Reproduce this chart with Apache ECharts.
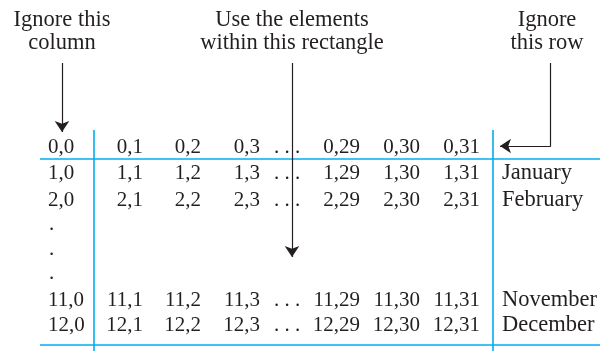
<!DOCTYPE html>
<html>
<head>
<meta charset="utf-8">
<script src="https://cdn.jsdelivr.net/npm/echarts@6/dist/echarts.min.js"></script>
<style>
  html, body { margin: 0; padding: 0; background: #fff; }
  #chart { width: 600px; height: 351px; }
</style>
</head>
<body>
<div id="chart"></div>
<script>
  // table content
  var rowIds = ['0', '1', '2', '11', '12'];
  var colIds = ['1', '2', '3', '29', '30', '31'];
  var monthNames = ['', 'January', 'February', 'November', 'December'];
  var ellipsisRows = ['0', '1', '2', '11', '12'];
  var gapDots = ['.', '.', '.'];
  var notes = [
    ['Ignore this', 'column'],
    ['Use the elements', 'within this rectangle'],
    ['Ignore', 'this row']
  ];

  // layout (pixels, y grows downward)
  var rowY = [147, 173.5, 200, 300, 325];
  var dotY = [229, 254, 278];
  var col0X = 48;
  var colRightX = [143, 201, 260, 360, 420, 480];
  var ellX = 287;
  var monthX = 502;
  var noteX = [62, 292, 547];
  var noteY = [20, 43];

  var ink = '#231f20';
  var blue = '#00aeef';
  var numFont = '21px "Liberation Serif", "DejaVu Serif", serif';
  var wordFont = '22.5px "Liberation Serif", "DejaVu Serif", serif';

  var texts = [];
  notes.forEach(function (n, i) {
    n.forEach(function (line, j) {
      texts.push([noteX[i], noteY[j], line, 'center', wordFont]);
    });
  });
  rowIds.forEach(function (r, i) {
    texts.push([col0X, rowY[i], r + ',0', 'left', numFont]);
    colIds.forEach(function (c, k) {
      texts.push([colRightX[k], rowY[i], r + ',' + c, 'right', numFont]);
    });
    if (monthNames[i]) texts.push([monthX, rowY[i], monthNames[i], 'left', wordFont]);
  });
  ellipsisRows.forEach(function (r, i) {
    texts.push([ellX, rowY[i], '. . .', 'center', numFont]);
  });
  gapDots.forEach(function (d, i) {
    texts.push([col0X + 1, dotY[i] - 5, d, 'left', numFont]);
  });

  var chart = echarts.init(document.getElementById('chart'));
  chart.setOption({
    animation: false,
    grid: { left: 0, right: 0, top: 0, bottom: 0 },
    xAxis: { type: 'value', min: 0, max: 600, show: false },
    yAxis: { type: 'value', min: 0, max: 351, inverse: true, show: false },
    series: [
      {
        type: 'lines',
        coordinateSystem: 'cartesian2d',
        symbol: 'none',
        lineStyle: { color: blue, width: 1.6, opacity: 1 },
        data: [
          { coords: [[40, 158.5], [600, 158.5]] },
          { coords: [[40, 345], [600, 345]] },
          { coords: [[94, 130], [94, 351]] },
          { coords: [[493, 130], [493, 351]] }
        ]
      },
      {
        // elbow of the right-hand pointer, no head
        type: 'lines',
        coordinateSystem: 'cartesian2d',
        symbol: 'none',
        lineStyle: { color: ink, width: 1.2, opacity: 1 },
        data: [
          { coords: [[550, 63], [550, 146.6]] }
        ]
      },
      {
        type: 'lines',
        coordinateSystem: 'cartesian2d',
        symbol: ['none', 'arrow'],
        symbolSize: [0, 11],
        lineStyle: { color: ink, width: 1.2, opacity: 1 },
        itemStyle: { color: ink },
        data: [
          { coords: [[62, 63], [62, 132]] },
          { coords: [[292, 63], [292, 257]] },
          { coords: [[550.6, 146], [500, 146]] }
        ]
      },
      {
        type: 'custom',
        coordinateSystem: 'cartesian2d',
        data: texts,
        renderItem: function (params, api) {
          var p = api.coord([api.value(0), api.value(1)]);
          var item = texts[params.dataIndex];
          return {
            type: 'text',
            x: p[0],
            y: p[1],
            style: {
              text: item[2],
              textAlign: item[3],
              textVerticalAlign: 'middle',
              font: item[4],
              fill: ink
            }
          };
        }
      }
    ]
  });
</script>
</body>
</html>
